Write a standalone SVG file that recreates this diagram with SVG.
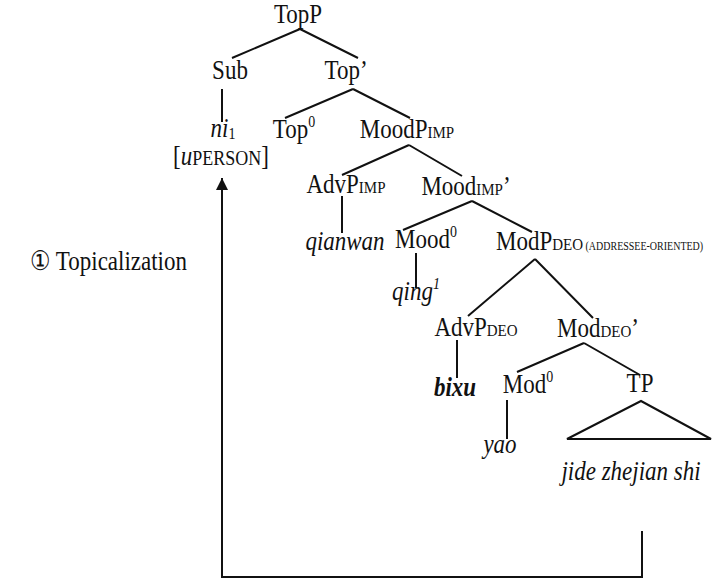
<svg xmlns="http://www.w3.org/2000/svg" width="712" height="580" viewBox="0 0 712 580">
  <style>
    text { font-family: "Liberation Serif", "Times New Roman", serif; font-size: 23px; fill: #111; }
    .c { text-anchor: middle; }
    .i { font-style: italic; }
    .b { font-weight: bold; }
    .sc { font-size: 15px; }
    .pc { font-size: 18px; }
    .tiny { font-size: 10px; }
    .sup { font-size: 14px; }
    .edge { stroke: #111; stroke-width: 2; fill: none; }
  </style>
  <defs>
    <marker id="arrowhead" markerWidth="14" markerHeight="12" refX="12" refY="6" orient="auto" markerUnits="userSpaceOnUse">
      <path d="M0,0 L12,6 L0,12 Z" fill="#111"/>
    </marker>
  </defs>
  <rect width="712" height="580" fill="#fff"/>

  <!-- tree branches and the movement arrow -->
  <g id="connectors">
    <path class="edge" d="M300,29 L232,58 M300,29 L358,58"/>
    <path class="edge" d="M222,89 L222,122"/>
    <path class="edge" d="M353,89 L285,118 M353,89 L410,118"/>
    <path class="edge" d="M409,145 L342,175 M409,145 L462,176"/>
    <path class="edge" d="M342,196 L342,233"/>
    <path class="edge" d="M472,201 L403,230 M472,201 L532,232"/>
    <path class="edge" d="M416,253 L416,288"/>
    <path class="edge" d="M535,259 L468,316 M535,259 L593,318"/>
    <path class="edge" d="M457,340 L457,378"/>
    <path class="edge" d="M584,343 L517,372 M584,343 L640,375"/>
    <path class="edge" d="M507,400 L507,439"/>
    <path class="edge" d="M641,401 L567,439 L711,439 Z"/>
    <path class="edge" d="M642,531 V577 H222 V178" marker-end="url(#arrowhead)"/>
  </g>

  <!-- labels are set in a tall serif: each is stretched vertically about its baseline -->
  <g id="TopP"><text class="c" transform="translate(298,23) scale(1,1.18)">TopP</text></g>
  <g id="Sub"><text class="c" transform="translate(230,79) scale(1,1.18)">Sub</text></g>
  <g id="TopBar"><text class="c" transform="translate(346,79) scale(1,1.18)">Top’</text></g>
  <g id="ni"><text class="c" transform="translate(223,137) scale(1,1.18)"><tspan class="i">ni</tspan><tspan class="sup" dy="2">1</tspan></text></g>
  <g id="uPerson"><text class="c" transform="translate(221,165) scale(1,1.18)">[<tspan class="i">u</tspan><tspan class="pc">PERSON</tspan>]</text></g>
  <g id="Top0"><text class="c" transform="translate(294,138) scale(1,1.18)">Top<tspan class="sup" dy="-9">0</tspan></text></g>
  <g id="MoodP"><text class="c" transform="translate(407,138) scale(1,1.18)">MoodP<tspan class="sc">IMP</tspan></text></g>
  <g id="AdvP_IMP"><text class="c" transform="translate(346,193) scale(1,1.18)">AdvP<tspan class="sc">IMP</tspan></text></g>
  <g id="MoodBar"><text class="c" transform="translate(466,195) scale(1,1.18)">Mood<tspan class="sc">IMP</tspan>’</text></g>
  <g id="qianwan"><text class="c i" transform="translate(345,250) scale(1,1.18)">qianwan</text></g>
  <g id="Mood0"><text class="c" transform="translate(426,248) scale(1,1.18)">Mood<tspan class="sup" dy="-9">0</tspan></text></g>
  <g id="ModP"><text transform="translate(496,250) scale(1,1.18)">ModP<tspan class="sc">DEO</tspan><tspan class="tiny"> (ADDRESSEE-ORIENTED)</tspan></text></g>
  <g id="qing"><text class="c i" transform="translate(416,300) scale(1,1.18)">qing<tspan class="sup" dy="-9">1</tspan></text></g>
  <g id="AdvP_DEO"><text class="c" transform="translate(476,336) scale(1,1.18)">AdvP<tspan class="sc">DEO</tspan></text></g>
  <g id="ModBar"><text class="c" transform="translate(598,337) scale(1,1.18)">Mod<tspan class="sc">DEO</tspan>’</text></g>
  <g id="bixu"><text class="c i b" transform="translate(455,396) scale(1,1.18)">bixu</text></g>
  <g id="Mod0"><text class="c" transform="translate(528,393) scale(1,1.18)">Mod<tspan class="sup" dy="-9">0</tspan></text></g>
  <g id="TP"><text class="c" transform="translate(640,392) scale(1,1.18)">TP</text></g>
  <g id="yao"><text class="c i" transform="translate(500,453) scale(1,1.18)">yao</text></g>
  <g id="TP_content"><text class="c i" transform="translate(631,480) scale(1,1.18)">jide zhejian shi</text></g>
  <g id="label"><text text-anchor="end" transform="translate(187,270) scale(1,1.18)">① Topicalization</text></g>
</svg>
